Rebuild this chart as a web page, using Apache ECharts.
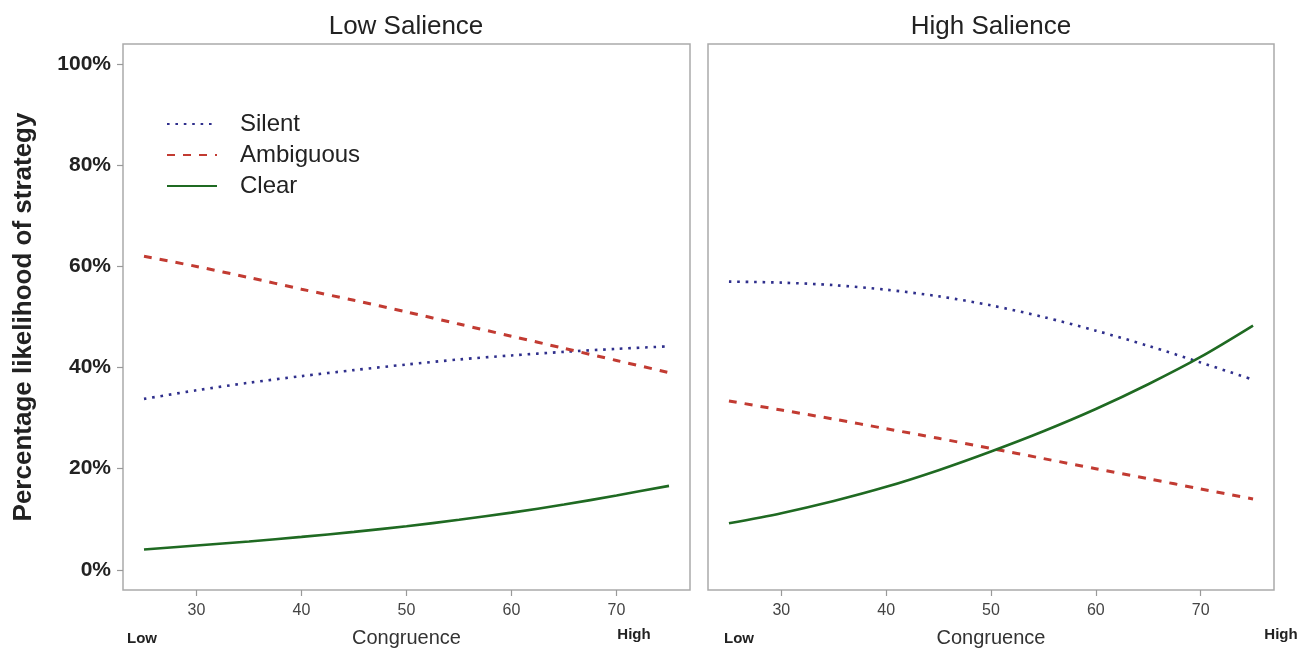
<!DOCTYPE html>
<html>
<head>
<meta charset="utf-8">
<script src="https://cdn.jsdelivr.net/npm/echarts@6/dist/echarts.min.js"></script>
<style>
html,body{margin:0;padding:0;background:#fff;}
#chart{width:1298px;height:648px;}
</style>
</head>
<body>
<div id="chart"></div>
<script>
// Data
const congruence = [25, 30, 35, 40, 45, 50, 55, 60, 65, 70, 75];
const lowSilent = [33.8, 35.5, 37.0, 38.3, 39.5, 40.6, 41.6, 42.4, 43.1, 43.7, 44.2];
const lowAmbiguous = [62.0, 60.0, 57.8, 55.5, 53.3, 51.0, 48.6, 46.2, 43.8, 41.4, 39.0];
const lowClear = [4.0, 4.8, 5.6, 6.5, 7.5, 8.6, 9.9, 11.3, 12.9, 14.7, 16.6];
const highSilent = [57.0, 56.8, 56.3, 55.4, 54.1, 52.3, 50.0, 47.3, 44.3, 41.0, 37.6];
const highAmbiguous = [33.4, 31.6, 29.8, 27.9, 26.0, 24.0, 22.0, 20.0, 18.0, 16.0, 14.0];
const highClear = [9.2, 11.2, 13.6, 16.4, 19.7, 23.4, 27.4, 31.8, 36.7, 42.1, 48.3];
const xTicks = [30, 40, 50, 60, 70];
const yTicks = [0, 20, 40, 60, 80, 100];
const panelTitles = ['Low Salience', 'High Salience'];
const seriesNames = ['Silent', 'Ambiguous', 'Clear'];

const FONT = "'Liberation Sans', Arial, sans-serif";
const styles = {
  Silent: { color: '#2f2f8c', width: 2.6, type: [2.6, 5.8] },
  Ambiguous: { color: '#c23b32', width: 3, type: [8, 8] },
  Clear: { color: '#1f6a22', width: 2.6, type: 'solid' }
};

function pairs(vals) { return congruence.map((x, i) => [x, vals[i]]); }

const panels = [
  { Silent: lowSilent, Ambiguous: lowAmbiguous, Clear: lowClear },
  { Silent: highSilent, Ambiguous: highAmbiguous, Clear: highClear }
];

const series = [];
panels.forEach((p, gi) => {
  seriesNames.forEach(name => {
    series.push({
      type: 'line', name: name, xAxisIndex: gi, yAxisIndex: gi,
      data: pairs(p[name]), smooth: 0.3, symbol: 'none', showSymbol: false,
      lineStyle: { color: styles[name].color, width: styles[name].width, type: styles[name].type, cap: 'butt' },
      itemStyle: { color: styles[name].color },
      emphasis: { disabled: true }, animation: false
    });
  });
});

function xAxis(gi) {
  return {
    type: 'value', gridIndex: gi, min: 23, max: 77,
    name: 'Congruence', nameLocation: 'middle', nameGap: 38,
    nameTextStyle: { fontFamily: FONT, fontSize: 20, color: '#333' },
    axisLine: { show: false, onZero: false },
    axisTick: { show: true, inside: false, length: 6, customValues: xTicks, lineStyle: { color: '#999', width: 1.2 } },
    axisLabel: { customValues: xTicks, margin: 13, fontFamily: FONT, fontSize: 16, color: '#444' },
    splitLine: { show: false }
  };
}
function yAxis(gi) {
  const a = {
    type: 'value', gridIndex: gi, min: -4, max: 104,
    axisLine: { show: false, onZero: false },
    splitLine: { show: false },
    axisTick: { show: gi === 0, inside: false, length: 6, customValues: yTicks, lineStyle: { color: '#999', width: 1.2 } },
    axisLabel: { show: gi === 0, customValues: yTicks, margin: 12, formatter: '{value}%', fontFamily: FONT, fontSize: 21, fontWeight: 'bold', color: '#222' }
  };
  if (gi === 0) {
    a.name = 'Percentage likelihood of strategy';
    a.nameLocation = 'middle';
    a.nameGap = 86;
    a.nameTextStyle = { fontFamily: FONT, fontSize: 26, fontWeight: 'bold', color: '#222' };
  }
  return a;
}

const option = {
  backgroundColor: '#fff',
  animation: false,
  grid: [
    { left: 123, right: 608, top: 44, bottom: 58, outerBoundsMode: 'none', containLabel: false, show: true, borderColor: '#ababab', borderWidth: 1.5, backgroundColor: 'transparent' },
    { left: 708, right: 24, top: 44, bottom: 58, outerBoundsMode: 'none', containLabel: false, show: true, borderColor: '#ababab', borderWidth: 1.5, backgroundColor: 'transparent' }
  ],
  xAxis: [xAxis(0), xAxis(1)],
  yAxis: [yAxis(0), yAxis(1)],
  legend: {
    data: seriesNames, orient: 'vertical', left: 161, top: 107,
    itemWidth: 50, itemHeight: 14, itemGap: 7,
    itemStyle: { opacity: 0 },
    textStyle: { fontFamily: FONT, fontSize: 24, color: '#222', padding: [0, 0, 0, 18] },
    selectedMode: false
  },
  graphic: [
    { type: 'text', style: { text: panelTitles[0], x: 406, y: 27, textAlign: 'center', textVerticalAlign: 'middle', font: '26px ' + FONT, fill: '#222' } },
    { type: 'text', style: { text: panelTitles[1], x: 991, y: 27, textAlign: 'center', textVerticalAlign: 'middle', font: '26px ' + FONT, fill: '#222' } },
    { type: 'text', style: { text: 'Low', x: 142, y: 639, textAlign: 'center', textVerticalAlign: 'middle', font: 'bold 15px ' + FONT, fill: '#222' } },
    { type: 'text', style: { text: 'High', x: 634, y: 635, textAlign: 'center', textVerticalAlign: 'middle', font: 'bold 15px ' + FONT, fill: '#222' } },
    { type: 'text', style: { text: 'Low', x: 739, y: 639, textAlign: 'center', textVerticalAlign: 'middle', font: 'bold 15px ' + FONT, fill: '#222' } },
    { type: 'text', style: { text: 'High', x: 1281, y: 635, textAlign: 'center', textVerticalAlign: 'middle', font: 'bold 15px ' + FONT, fill: '#222' } }
  ],
  series: series
};

const chart = echarts.init(document.getElementById('chart'), null, { renderer: 'canvas' });
chart.setOption(option);
</script>
</body>
</html>
